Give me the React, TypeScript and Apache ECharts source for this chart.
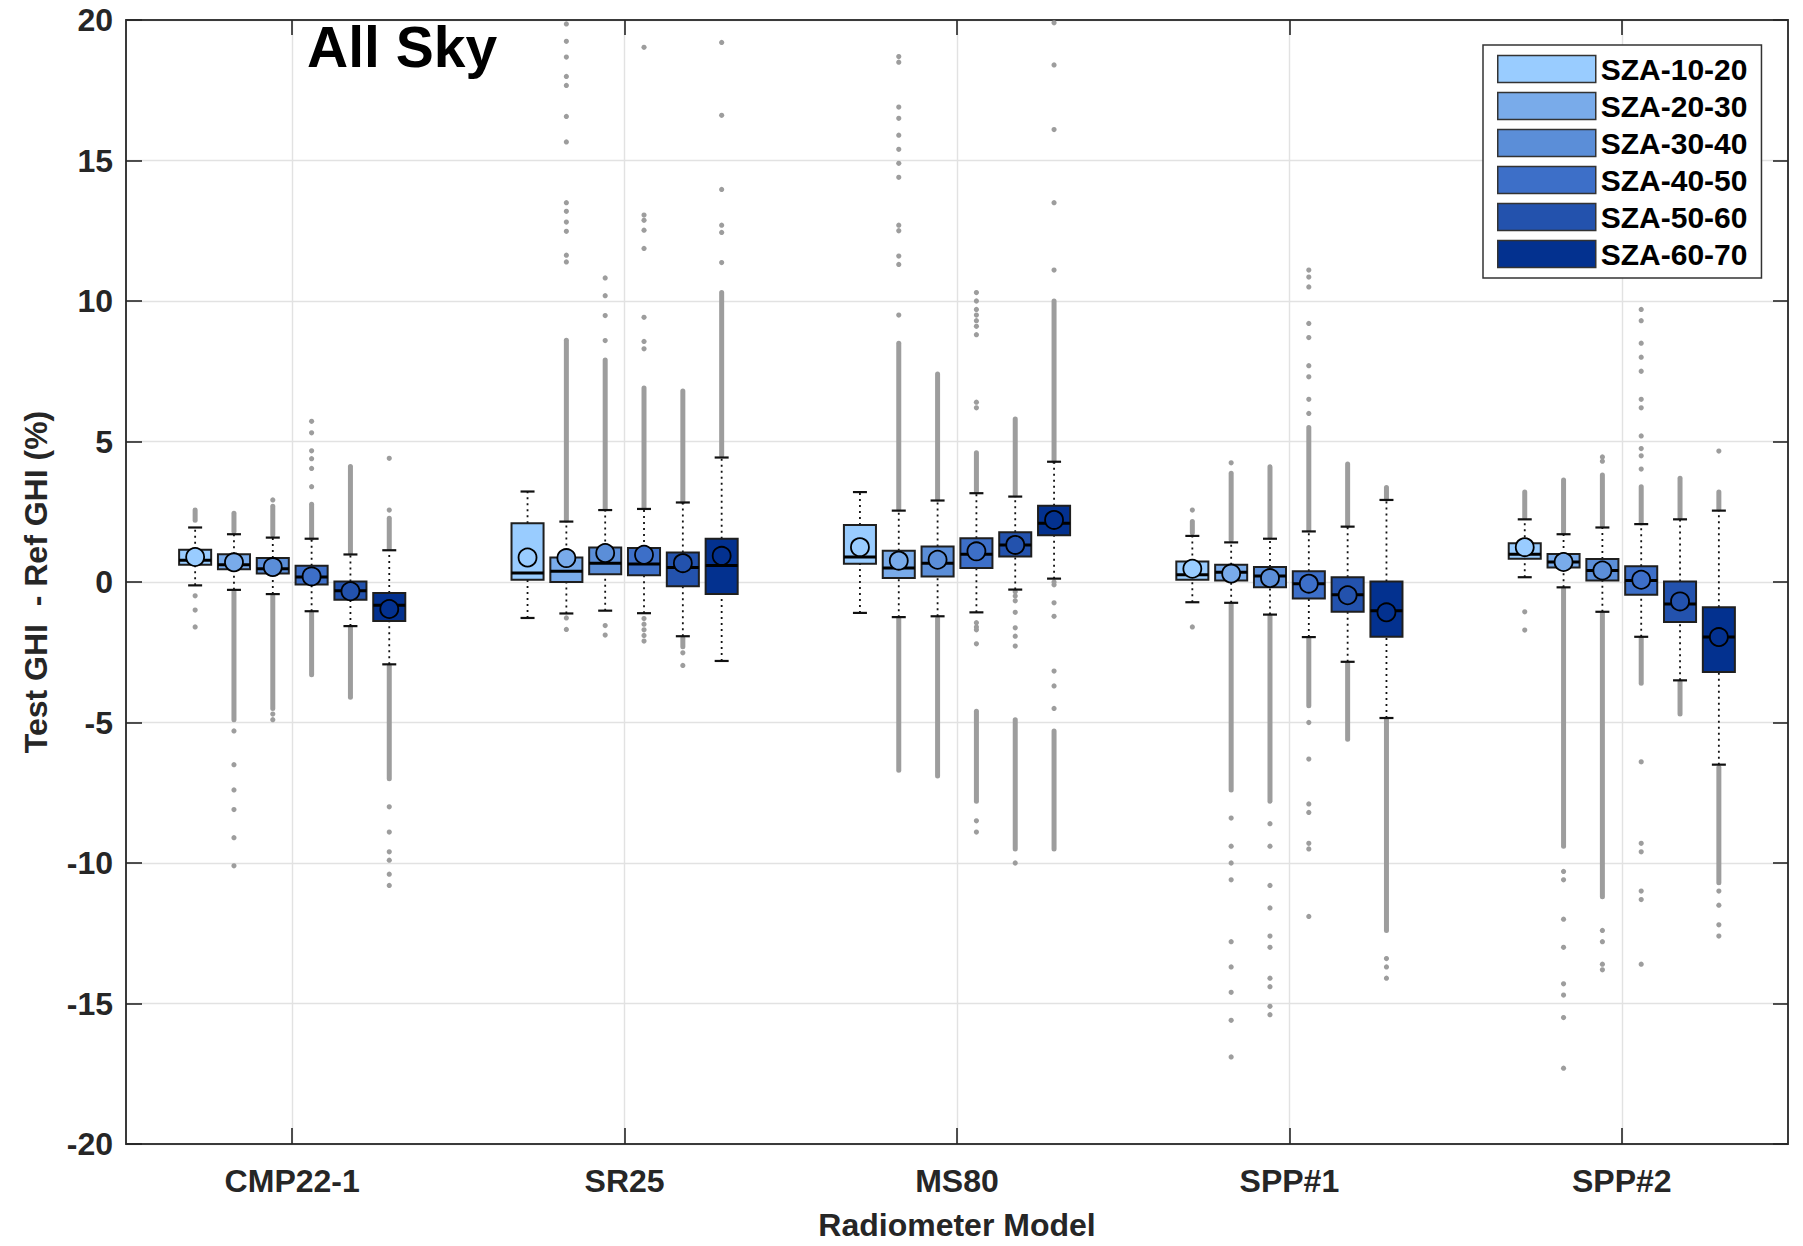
import React, { useEffect, useRef } from 'react';
import * as echarts from 'echarts';

const categories = ['CMP22-1', 'SR25', 'MS80', 'SPP#1', 'SPP#2'];
const szaBins = ['SZA-10-20', 'SZA-20-30', 'SZA-30-40', 'SZA-40-50', 'SZA-50-60', 'SZA-60-70'];
const binColors = ['#99CCFF', '#79ABEA', '#5B8ED8', '#3D6FC8', '#2352AD', '#03318F'];
const yMin = -20;
const yMax = 20;
const yStep = 5;

// per category: [lowWhisker, q1, median, q3, highWhisker, mean]
const stats1020 = [
  [-0.12, 0.61, 0.77, 1.15, 1.94, 0.89],
  [-1.28, 0.08, 0.32, 2.09, 3.22, 0.87],
  [-1.10, 0.65, 0.89, 2.03, 3.20, 1.24],
  [-0.72, 0.08, 0.26, 0.73, 1.64, 0.47],
  [0.17, 0.83, 0.99, 1.38, 2.23, 1.24],
];
const stats2030 = [
  [-0.28, 0.45, 0.61, 0.99, 1.70, 0.70],
  [-1.12, 0.0, 0.38, 0.87, 2.15, 0.85],
  [-1.25, 0.14, 0.50, 1.11, 2.54, 0.76],
  [-0.74, 0.05, 0.35, 0.61, 1.41, 0.30],
  [-0.19, 0.52, 0.71, 1.00, 1.70, 0.71],
];
const stats3040 = [
  [-0.43, 0.30, 0.47, 0.85, 1.58, 0.53],
  [-1.02, 0.28, 0.67, 1.23, 2.56, 1.03],
  [-1.22, 0.20, 0.67, 1.26, 2.90, 0.79],
  [-1.16, -0.19, 0.21, 0.53, 1.54, 0.14],
  [-1.06, 0.05, 0.41, 0.82, 1.94, 0.41],
];
const stats4050 = [
  [-1.04, -0.09, 0.18, 0.58, 1.54, 0.20],
  [-1.11, 0.24, 0.64, 1.21, 2.60, 0.97],
  [-1.08, 0.50, 0.99, 1.56, 3.16, 1.09],
  [-1.96, -0.59, -0.06, 0.38, 1.80, -0.06],
  [-1.95, -0.45, 0.05, 0.56, 2.06, 0.08],
];
const stats5060 = [
  [-1.57, -0.63, -0.31, 0.02, 0.98, -0.33],
  [-1.93, -0.15, 0.52, 1.05, 2.83, 0.67],
  [-0.27, 0.91, 1.32, 1.77, 3.04, 1.32],
  [-2.84, -1.06, -0.45, 0.17, 1.97, -0.47],
  [-3.50, -1.42, -0.78, 0.02, 2.23, -0.69],
];
const stats6070 = [
  [-2.93, -1.39, -0.83, -0.39, 1.13, -0.96],
  [-2.81, -0.43, 0.59, 1.54, 4.43, 0.93],
  [0.12, 1.66, 2.09, 2.71, 4.28, 2.21],
  [-4.84, -1.95, -1.02, 0.02, 2.92, -1.08],
  [-6.50, -3.20, -1.96, -0.90, 2.54, -1.96],
];

// isolated outliers per category
const pts1020 = [[-0.49, -1.0, -1.6], [], [], [2.56, -1.6], [-1.06, -1.71]];
const pts2030 = [
  [-5.3, -6.5, -7.4, -8.1, -9.1, -10.1],
  [11.39, 11.63, 12.48, 12.81, 13.19, 13.5, 15.66, 16.57, 17.67, 17.99, 18.68, 19.24, 19.86, -1.28, -1.69],
  [9.5, 11.3, 11.6, 12.5, 12.7, 14.4, 14.9, 15.4, 15.9, 16.5, 16.9, 18.5, 18.7],
  [4.24, -8.4, -9.4, -10.0, -10.6, -12.8, -13.7, -14.6, -15.6, -16.9],
  [-10.3, -10.6, -12.0, -13.0, -14.3, -14.7, -15.5, -17.3],
];
const pts3040 = [
  [2.92, -4.7, -4.9],
  [8.59, 9.48, 10.19, 10.82, -1.55, -1.89],
  [],
  [-8.6, -9.4, -10.8, -11.6, -12.6, -13.0, -14.1, -14.4, -15.1, -15.4],
  [4.3, 4.45, -12.4, -12.8, -13.6, -13.8],
];
const pts4050 = [
  [3.39, 4.04, 4.39, 4.67, 5.31, 5.72],
  [8.3, 8.56, 9.42, 11.87, 12.52, 12.87, 13.06, 19.03, -1.3, -1.5, -1.7, -1.9, -2.1],
  [6.2, 6.4, 8.8, 9.1, 9.3, 9.5, 9.7, 10.0, 10.3, -1.45, -1.6, -1.7, -2.2, -8.5, -8.9],
  [6.0, 6.5, 7.3, 7.7, 8.7, 9.2, 10.5, 10.85, 11.1, -5.0, -6.3, -7.9, -8.2, -9.3, -9.5, -11.9],
  [4.02, 4.49, 4.75, 5.2, 6.2, 6.5, 7.5, 8.0, 8.5, 9.3, 9.7, -6.4, -9.3, -9.6, -11.0, -11.3, -13.6],
];
const pts5060 = [
  [],
  [-2.52, -2.97],
  [-0.35, -0.5, -0.67, -1.08, -1.63, -1.93, -2.28, -10.0],
  [],
  [],
];
const pts6070 = [
  [2.56, 4.4, -8.0, -8.9, -9.6, -9.9, -10.4, -10.8],
  [11.37, 12.44, 12.7, 13.97, 16.61, 19.2],
  [11.1, 13.5, 16.1, 18.4, 19.9, 0.0, -0.1, -0.74, -1.22, -3.17, -3.7, -4.5],
  [-13.4, -13.7, -14.1],
  [4.66, -11.0, -11.5, -12.2, -12.6],
];

// densely packed outlier runs per category: [from, to]
const dense1020 = [[[2.2, 2.56]], [], [], [[1.75, 2.15]], [[2.3, 3.2]]];
const dense2030 = [
  [[1.8, 2.45], [-0.35, -4.9]],
  [[2.2, 8.6]],
  [[2.6, 8.5], [-1.3, -6.7]],
  [[1.5, 3.87], [-0.8, -7.4]],
  [[1.75, 3.63], [-0.25, -9.4]],
];
const dense3040 = [
  [[1.68, 2.7], [-0.5, -4.5]],
  [[2.6, 7.9]],
  [[2.95, 7.4], [-1.3, -6.9]],
  [[1.6, 4.1], [-1.2, -7.8]],
  [[2.0, 3.81], [-1.1, -11.2]],
];
const dense4050 = [
  [[1.56, 2.77], [-1.1, -3.3]],
  [[2.65, 6.9]],
  [[3.2, 4.6], [-4.6, -7.8]],
  [[1.85, 5.5], [-2.0, -4.4]],
  [[2.1, 3.39], [-2.0, -3.6]],
];
const dense5060 = [
  [[1.03, 4.11], [-1.6, -4.1]],
  [[2.85, 6.8], [-2.0, -2.3]],
  [[3.1, 5.8], [-4.9, -9.5]],
  [[2.0, 4.2], [-2.9, -5.6]],
  [[2.3, 3.69], [-3.55, -4.7]],
];
const dense6070 = [
  [[1.2, 2.27], [-3.0, -7.0]],
  [[4.5, 10.3]],
  [[4.3, 10.0], [-5.3, -9.5]],
  [[2.95, 3.36], [-4.9, -12.4]],
  [[2.6, 3.2], [-6.6, -10.7]],
];

const allStats = [stats1020, stats2030, stats3040, stats4050, stats5060, stats6070];
const allPts = [pts1020, pts2030, pts3040, pts4050, pts5060, pts6070];
const allDense = [dense1020, dense2030, dense3040, dense4050, dense5060, dense6070];

const FONT = '"Liberation Sans", Arial, Helvetica, sans-serif';
const GROUP_STEP = 0.1168; // fraction of a category band between neighbouring boxes
const BOX_W = 0.0964; // box width as fraction of band
const OUTLIER_COLOR = '#9d9d9d';

function offsetX(api: any, ci: number, s: number) {
  const band = api.size([1, 0])[0];
  return { cx: api.coord([ci, 0])[0] + (s - 2.5) * band * GROUP_STEP, band };
}

function boxRenderer(s: number) {
  return (params: any, api: any) => {
    const ci = api.value(0);
    const { cx, band } = offsetX(api, ci, s);
    const w = band * BOX_W;
    const Y = (i: number) => api.coord([ci, api.value(i)])[1];
    const yLw = Y(1), yQ1 = Y(2), yMed = Y(3), yQ3 = Y(4), yHw = Y(5), yMean = Y(6);
    const dash = { stroke: '#111', lineWidth: 1.8, lineDash: [2, 4], fill: null };
    const cap = { stroke: '#111', lineWidth: 2.2 };
    const capW = 7;
    return {
      type: 'group',
      children: [
        { type: 'line', shape: { x1: cx, y1: yQ3, x2: cx, y2: yHw }, style: dash },
        { type: 'line', shape: { x1: cx, y1: yLw, x2: cx, y2: yQ1 }, style: dash },
        { type: 'line', shape: { x1: cx - capW, y1: yHw, x2: cx + capW, y2: yHw }, style: cap },
        { type: 'line', shape: { x1: cx - capW, y1: yLw, x2: cx + capW, y2: yLw }, style: cap },
        {
          type: 'rect',
          shape: { x: cx - w / 2, y: yQ3, width: w, height: yQ1 - yQ3 },
          style: { fill: binColors[s], stroke: '#1f1f1f', lineWidth: 2 },
        },
        {
          type: 'line',
          shape: { x1: cx - w / 2, y1: yMed, x2: cx + w / 2, y2: yMed },
          style: { stroke: '#000', lineWidth: 3 },
        },
        {
          type: 'circle',
          shape: { cx, cy: yMean, r: 9 },
          style: { fill: binColors[s], stroke: '#000', lineWidth: 1.8 },
        },
      ],
    };
  };
}

function pointRenderer(s: number) {
  return (params: any, api: any) => {
    const ci = api.value(0);
    const { cx } = offsetX(api, ci, s);
    const cy = api.coord([ci, api.value(1)])[1];
    return { type: 'circle', shape: { cx, cy, r: 2.6 }, style: { fill: OUTLIER_COLOR } };
  };
}

function denseRenderer(s: number) {
  return (params: any, api: any) => {
    const ci = api.value(0);
    const { cx } = offsetX(api, ci, s);
    const y1 = api.coord([ci, api.value(1)])[1];
    const y2 = api.coord([ci, api.value(2)])[1];
    return {
      type: 'line',
      shape: { x1: cx, y1, x2: cx, y2 },
      style: { stroke: OUTLIER_COLOR, lineWidth: 5, lineCap: 'round' },
    };
  };
}

export default function App() {
  const ref = useRef<HTMLDivElement>(null);
  useEffect(() => {
    document.body.style.margin = '0';
    document.body.style.overflow = 'hidden';
    const chart = echarts.init(ref.current!, undefined, { renderer: 'svg' });
    const series: any[] = [];
    szaBins.forEach((name, s) => {
      const ptsData: number[][] = [];
      allPts[s].forEach((arr, ci) => arr.forEach((v) => ptsData.push([ci, v])));
      const denseData: number[][] = [];
      allDense[s].forEach((arr, ci) => arr.forEach((r) => denseData.push([ci, r[0], r[1]])));
      series.push({
        type: 'custom',
        name: `${name}-dense`,
        renderItem: denseRenderer(s),
        data: denseData,
        encode: { x: 0, y: [1, 2] },
        clip: true,
        silent: true,
        z: 2,
      });
      series.push({
        type: 'custom',
        name: `${name}-outliers`,
        renderItem: pointRenderer(s),
        data: ptsData,
        encode: { x: 0, y: 1 },
        clip: true,
        silent: true,
        z: 2,
      });
    });
    szaBins.forEach((name, s) => {
      series.push({
        type: 'custom',
        name,
        renderItem: boxRenderer(s),
        itemStyle: { color: binColors[s] },
        data: allStats[s].map((st, ci) => [ci, ...st]),
        encode: { x: 0, y: [1, 2, 3, 4, 5] },
        clip: true,
        silent: true,
        z: 3,
      });
    });

    const axisLineStyle = { color: '#3a3a3a', width: 2 };
    const tickStyle = { color: '#262626', width: 1.6 };
    const labelStyle = { color: '#262626', fontSize: 32, fontWeight: 'bold', fontFamily: FONT };
    const nameStyle = { color: '#262626', fontSize: 32, fontWeight: 'bold', fontFamily: FONT };

    chart.setOption({
      animation: false,
      backgroundColor: '#ffffff',
      grid: { left: 126, top: 20, width: 1662, height: 1130, containLabel: false },
      xAxis: [
        {
          type: 'category',
          data: categories,
          boundaryGap: true,
          axisLine: { show: true, onZero: false, lineStyle: axisLineStyle },
          axisTick: { show: true, inside: true, alignWithLabel: true, length: 16, lineStyle: tickStyle },
          axisLabel: { ...labelStyle, margin: 21, interval: 0 },
          splitLine: { show: true, interval: 0, alignWithLabel: true, lineStyle: { color: '#e2e2e2', width: 1.4 } },
          name: 'Radiometer Model',
          nameLocation: 'middle',
          nameGap: 65,
          nameTextStyle: nameStyle,
        },
        {
          type: 'category',
          data: categories,
          position: 'top',
          boundaryGap: true,
          axisLine: { show: true, onZero: false, lineStyle: axisLineStyle },
          axisTick: { show: true, inside: true, alignWithLabel: true, length: 15, lineStyle: tickStyle },
          axisLabel: { show: false },
          splitLine: { show: false },
        },
      ],
      yAxis: [
        {
          type: 'value',
          min: yMin,
          max: yMax,
          interval: yStep,
          axisLine: { show: true, onZero: false, lineStyle: axisLineStyle },
          axisTick: { show: true, inside: true, length: 16, lineStyle: tickStyle },
          axisLabel: { ...labelStyle, margin: 13 },
          splitLine: { show: true, lineStyle: { color: '#e2e2e2', width: 1.4 } },
          name: 'Test GHI  - Ref GHI (%)',
          nameLocation: 'middle',
          nameGap: 74,
          nameTextStyle: nameStyle,
        },
        {
          type: 'value',
          min: yMin,
          max: yMax,
          interval: yStep,
          position: 'right',
          axisLine: { show: true, onZero: false, lineStyle: axisLineStyle },
          axisTick: { show: true, inside: true, length: 15, lineStyle: tickStyle },
          axisLabel: { show: false },
          splitLine: { show: false },
        },
      ],
      legend: {
        orient: 'vertical',
        left: 1483,
        top: 45,
        padding: [9, 14, 9, 14],
        backgroundColor: '#ffffff',
        borderColor: '#333333',
        borderWidth: 1.5,
        itemWidth: 98,
        itemHeight: 27,
        itemGap: 7,
        selectedMode: false,
        textStyle: { color: '#000', fontSize: 30, fontWeight: 'bold', fontFamily: FONT, lineHeight: 27 },
        data: szaBins.map((n, s) => ({
          name: n,
          icon: 'rect',
          itemStyle: { color: binColors[s], borderColor: '#333333', borderWidth: 1.5 },
        })),
      },
      graphic: [
        {
          type: 'text',
          left: 307,
          top: 18,
          z: 10,
          style: { text: 'All Sky', fill: '#000', font: `bold 57px ${FONT}` },
        },
      ],
      series,
    });
    return () => chart.dispose();
  }, []);
  return <div ref={ref} style={{ position: 'absolute', left: 0, top: 0, width: 1803, height: 1246 }} />;
}
